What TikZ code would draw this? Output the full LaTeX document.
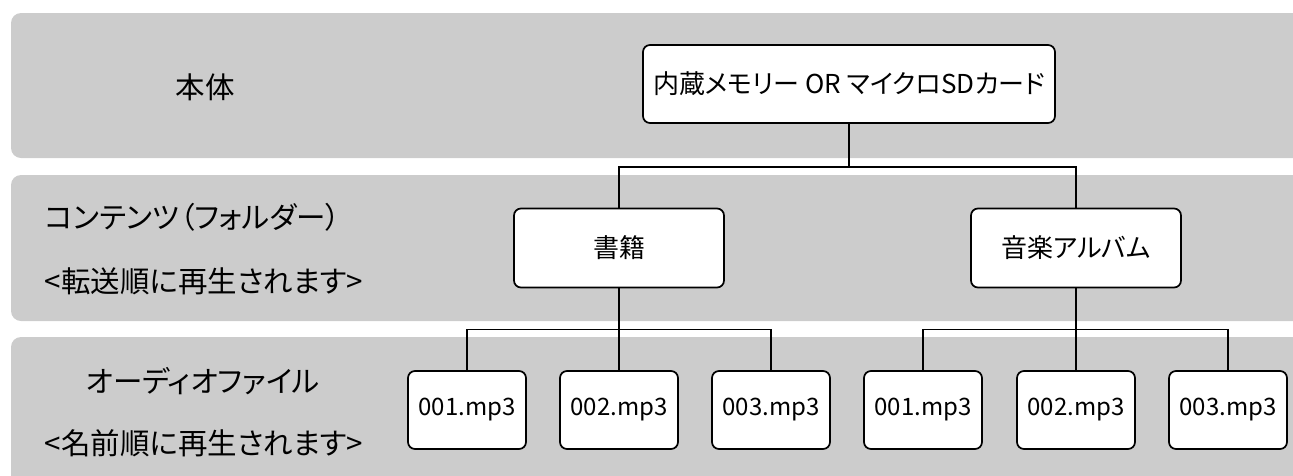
\documentclass[tikz,border=0pt]{standalone}
\usepackage{fontspec}
\setmainfont[RawFeature=+palt]{Noto Sans CJK JP}
\usetikzlibrary{positioning}

\begin{document}
\begin{tikzpicture}[
    x=1pt, y=-1pt,
    node distance=50pt, on grid,
    band/.style={fill=black!20, rounded corners=10pt},
    box/.style={rectangle, draw=black, line width=1.7pt, rounded corners=7pt, fill=white, inner sep=0pt, font=\fontsize{26}{30}\selectfont},
    media/.style={box, minimum width=412pt, minimum height=78pt},
    folder/.style={box, minimum width=210pt, minimum height=79pt},
    track/.style={box, minimum width=118pt, minimum height=78pt, font=\fontsize{24}{28}\selectfont},
    lab/.style={inner sep=0pt, font=\fontsize{29.5}{33}\selectfont},
    link/.style={draw=black, line width=1.5pt}
]
\clip (0,0) rectangle (1293,475);

% --- layer bands ---
\fill[band] (11,13) rectangle (1320,158);
\fill[band] (11,175) rectangle (1320,321);
\fill[band] (11,337) rectangle (1320,500);

% --- layer labels ---
\node[lab] (body) at (205,87) {本体};
\node[lab] (content) at (193,217) {コンテンツ（フォルダー）};
\node[lab] (order1) at (204,281) {<転送順に再生されます>};
\node[lab] (audio) at (203,381) {オーディオファイル};
\node[lab] (order2) at (204,443) {<名前順に再生されます>};

% --- storage ---
\node[media] (mem) at (849,84) {内蔵メモリー OR マイクロSDカード};

% --- folders ---
\node[folder, below left=164pt and 230pt of mem] (book) {書籍};
\node[folder, below right=164pt and 227pt of mem] (music) {音楽アルバム};

% --- files of the book folder ---
\node[track, below=162pt of book] (b2) {002.mp3};
\node[track, left=152pt of b2] (b1) {001.mp3};
\node[track, right=152pt of b2] (b3) {003.mp3};

% --- files of the album folder ---
\node[track, below=162pt of music] (m2) {002.mp3};
\node[track, left=153pt of m2] (m1) {001.mp3};
\node[track, right=152pt of m2] (m3) {003.mp3};

% --- tree lines ---
\coordinate[below=43pt of mem.south] (memfork);
\draw[link] (mem.south) -- (memfork);
\draw[link] (book.north) |- (memfork) -| (music.north);

\coordinate[below=41pt of book.south] (bookfork);
\draw[link] (book.south) -- (b2.north);
\draw[link] (b1.north) |- (bookfork) -| (b3.north);

\coordinate[below=41pt of music.south] (musicfork);
\draw[link] (music.south) -- (m2.north);
\draw[link] (m1.north) |- (musicfork) -| (m3.north);

\end{tikzpicture}
\end{document}
